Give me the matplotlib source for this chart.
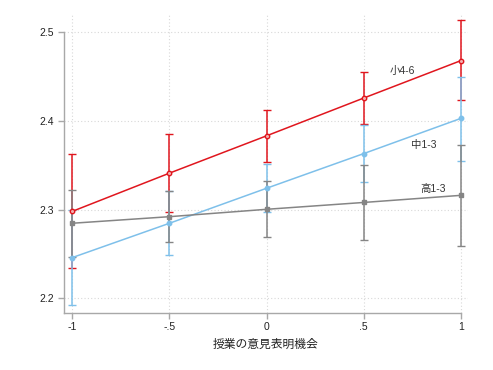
import matplotlib
matplotlib.use("Agg")
import matplotlib.pyplot as plt
import numpy as np

plt.rcParams['font.family'] = ['Liberation Sans', 'Noto Sans CJK JP', 'DejaVu Sans']

x_vals = [-1, -0.5, 0, 0.5, 1]
x_ticklabels = ["-1", "-.5", "0", ".5", "1"]
y_ticks = [2.2, 2.3, 2.4, 2.5]
y_ticklabels = ["2.2", "2.3", "2.4", "2.5"]

series_names = ["小4-6", "中1-3", "高1-3"]
red_mean = [2.298, 2.341, 2.383, 2.4255, 2.4676]
red_lo = [2.234, 2.297, 2.354, 2.396, 2.423]
red_hi = [2.362, 2.3845, 2.412, 2.455, 2.513]
blue_mean = [2.246, 2.2846, 2.324, 2.363, 2.4026]
blue_lo = [2.193, 2.2485, 2.297, 2.331, 2.355]
blue_hi = [2.299, 2.321, 2.3515, 2.3955, 2.449]
gray_mean = [2.2846, 2.292, 2.3003, 2.308, 2.316]
gray_lo = [2.247, 2.263, 2.2696, 2.266, 2.259]
gray_hi = [2.3218, 2.321, 2.3316, 2.350, 2.3725]

xlabel = "授業の意見表明機会"

fig = plt.figure(figsize=(4.93, 3.70), dpi=100)
ax = fig.add_axes([0.1298, 0.155, 0.949 - 0.1298, 0.962 - 0.155])

colors = ['#e0161e', '#7ec0ea', '#858585']
markers = ['o', 'o', 's']
data = [(red_mean, red_lo, red_hi), (blue_mean, blue_lo, blue_hi), (gray_mean, gray_lo, gray_hi)]

for i, (m, lo, hi) in enumerate(data):
    m = np.array(m); lo = np.array(lo); hi = np.array(hi)
    ax.errorbar(x_vals, m, yerr=[m - lo, hi - m], fmt='none', ecolor=colors[i],
                elinewidth=1.1, capsize=3.2, capthick=1.0, zorder=2 + i * 0.1)
for i, (m, lo, hi) in enumerate(data):
    ax.plot(x_vals, m, color=colors[i], lw=1.1, marker=markers[i], ms=3.2,
            mfc=colors[i] if i > 0 else '#f3b0b0', mec=colors[i], mew=1.0, zorder=4)

label_pos = [(0.701, 2.4556), (0.809, 2.3725), (0.858, 2.3233)]
for name, (lx, ly) in zip(series_names, label_pos):
    ax.text(lx, ly, name, ha='center', va='center', fontsize=7.5, color='#333333',
            family=['Liberation Sans', 'Noto Sans CJK JP'], zorder=5)

ax.set_xlim(-1.043, 1.036)
ax.set_ylim(2.184, 2.520)
ax.set_xticks(x_vals)
ax.set_xticklabels(x_ticklabels)
ax.set_yticks(y_ticks)
ax.set_yticklabels(y_ticklabels)
ax.grid(True, color='#d8d8d8', linestyle=(0, (1, 2)), linewidth=0.8)
ax.set_axisbelow(True)

for s in ['top', 'right']:
    ax.spines[s].set_visible(False)
for s in ['left', 'bottom']:
    ax.spines[s].set_color('#a8a8a8')
    ax.spines[s].set_linewidth(1.0)
ax.spines['left'].set_bounds(2.184, 2.5)
ax.spines['bottom'].set_bounds(-1.043, 1)
ax.tick_params(axis='both', direction='out', length=4, width=1.0, color='#a8a8a8',
               labelsize=7.5, labelcolor='#222222', pad=3)

ax.set_xlabel(xlabel, fontsize=8.5, color='#222222', family=['Noto Sans CJK JP', 'Liberation Sans'], labelpad=4)

fig.savefig("out.png", dpi=100, facecolor='white')
